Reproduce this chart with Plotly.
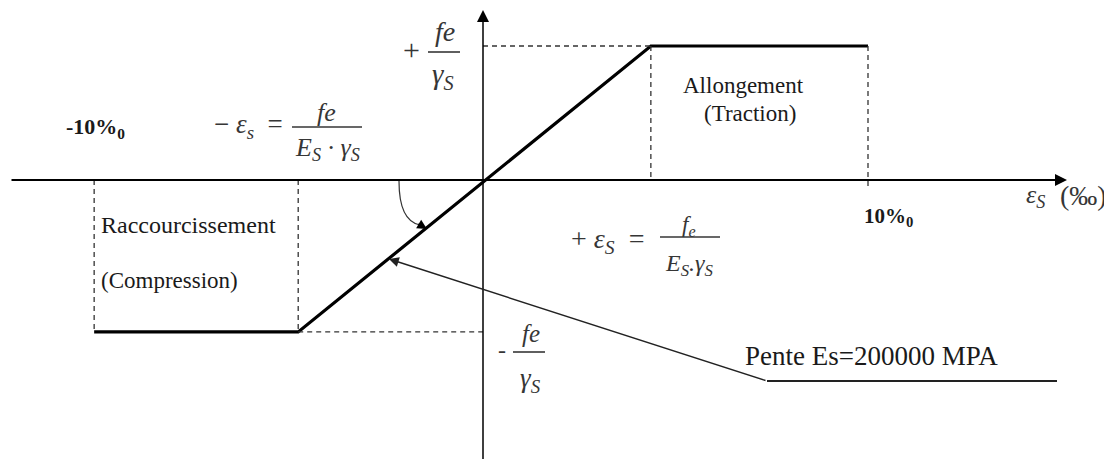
import plotly.graph_objects as go

# steel stress-strain diagram (strain in per mille, stress in units of fe/gamma_s)
strain = [-10.1, -4.8, 4.36, 10.0]
stress = [-1.134, -1.134, 1.0, 1.0]
eps_limit = 10.0
eps_neg, eps_pos = -4.8, 4.36
sig_neg, sig_pos = -1.134, 1.0

W, H = 1112, 459
PAD = 8                    # page body margin around the plot div
X0, Y0 = 483, 180          # page pixel position of the origin
SX, SY = 38.5, 134.0       # pixels per unit

def X(px):
    return (px - X0) / SX

def Y(py):
    return (Y0 - py) / SY

SERIF = "Liberation Serif, Times New Roman, serif"
INK = "#1a1a1a"
GREY = "#363636"

fig = go.Figure()

# main curve
fig.add_trace(go.Scatter(x=strain, y=stress, mode="lines",
                         line=dict(color="black", width=3.2), hoverinfo="skip"))

# dashed guides
dash = dict(color="#333333", width=1.3, dash="5px,4px")
guides = [
    ([0, eps_pos], [sig_pos, sig_pos]),
    ([eps_pos, eps_pos], [sig_pos, 0]),
    ([eps_limit, eps_limit], [sig_pos, -0.05]),
    ([strain[0], strain[0]], [0, sig_neg]),
    ([eps_neg, eps_neg], [0, sig_neg]),
    ([eps_neg, 0], [sig_neg, sig_neg]),
]
for gx, gy in guides:
    fig.add_trace(go.Scatter(x=gx, y=gy, mode="lines", line=dash, hoverinfo="skip"))

# axes with arrow heads
fig.add_annotation(x=X(1067), y=0, ax=X(10), ay=0, axref="x", ayref="y",
                   text="", showarrow=True, arrowhead=2, arrowsize=1.2,
                   arrowwidth=2, arrowcolor="black")
fig.add_annotation(x=0, y=Y(10), ax=0, ay=Y(470), axref="x", ayref="y",
                   text="", showarrow=True, arrowhead=2, arrowsize=1.6,
                   arrowwidth=1.5, arrowcolor="black")

# curved pointer
fig.add_shape(type="path",
              path=f"M {X(399)},{Y(181)} Q {X(399)},{Y(221)} {X(420)},{Y(225)}",
              line=dict(color="#333333", width=1.2))
fig.add_annotation(x=X(427), y=Y(229), ax=X(417), ay=Y(223), axref="x", ayref="y",
                   text="", showarrow=True, arrowhead=2, arrowsize=1.5,
                   arrowwidth=1.3, arrowcolor="black")

# slope leader
fig.add_annotation(x=X(389), y=Y(259), ax=X(767), ay=Y(381), axref="x", ayref="y",
                   text="", showarrow=True, arrowhead=2, arrowsize=1.4,
                   arrowwidth=1.4, arrowcolor="#222222")
fig.add_shape(type="line", x0=X(767), y0=Y(381), x1=X(1057), y1=Y(381),
              line=dict(color="#222222", width=1.8))


def label(px, py, text, size, color=INK, xanchor="center"):
    fig.add_annotation(x=X(px), y=Y(py), text=text, showarrow=False,
                       xanchor=xanchor, yanchor="middle",
                       font=dict(family=SERIF, size=size, color=color))


def bar(x0, x1, py):
    fig.add_shape(type="line", x0=X(x0), y0=Y(py), x1=X(x1), y1=Y(py),
                  line=dict(color=GREY, width=1.6))


# + fe / gamma_s
label(411, 49, "+", 30, GREY)
label(445, 31, "<i>fe</i>", 28, GREY)
bar(428, 460, 52)
label(443, 76, "<i>γ<sub>S</sub></i>", 29, GREY)

# - fe / gamma_s
label(502, 350, "-", 24, GREY)
label(531, 333, "<i>fe</i>", 25, GREY)
bar(513, 545, 352)
label(530, 380, "<i>γ<sub>S</sub></i>", 27, GREY)

# - eps_s = fe / (Es.gamma_s)
label(248, 126, "− <i>ε<sub>s</sub></i>  =", 27, GREY)
label(326, 112, "<i>fe</i>", 26, GREY)
bar(292, 362, 127)
label(327, 149, "<i>E<sub>S</sub> · γ<sub>S</sub></i>", 26, GREY)

# + eps_s = fe / (Es.gamma_s)
label(607, 240, "+ <i>ε<sub>S</sub></i>  =", 28, GREY)
label(689, 226, "<i>f<sub>e</sub></i>", 23, GREY)
bar(660, 720, 237)
label(689, 265, "<i>E<sub>S</sub>.γ<sub>S</sub></i>", 24, GREY)

# limits
label(95, 128, "<b>-10%<sub>0</sub></b>", 22)
label(888, 217, "<b>10%<sub>0</sub></b>", 21)

# axis name
label(1035, 196, "<i>ε<sub>S</sub></i>", 26, GREY)
label(1083, 195, "(‰)", 28, GREY)

# zone names
label(743, 85, "Allongement", 23)
label(750, 113, "(Traction)", 23)
label(99, 225, "Raccourcissement", 24, xanchor="left")
label(99, 280, "(Compression)", 23, xanchor="left")

label(871, 356, "Pente Es=200000 MPA", 27)

fig.update_layout(
    width=W - PAD, height=H - PAD,
    margin=dict(l=0, r=0, t=0, b=0),
    paper_bgcolor="white", plot_bgcolor="white",
    showlegend=False,
    xaxis=dict(visible=False, range=[X(PAD), X(W)], fixedrange=True),
    yaxis=dict(visible=False, range=[Y(H), Y(PAD)], fixedrange=True),
)

fig.write_html("out.html")
